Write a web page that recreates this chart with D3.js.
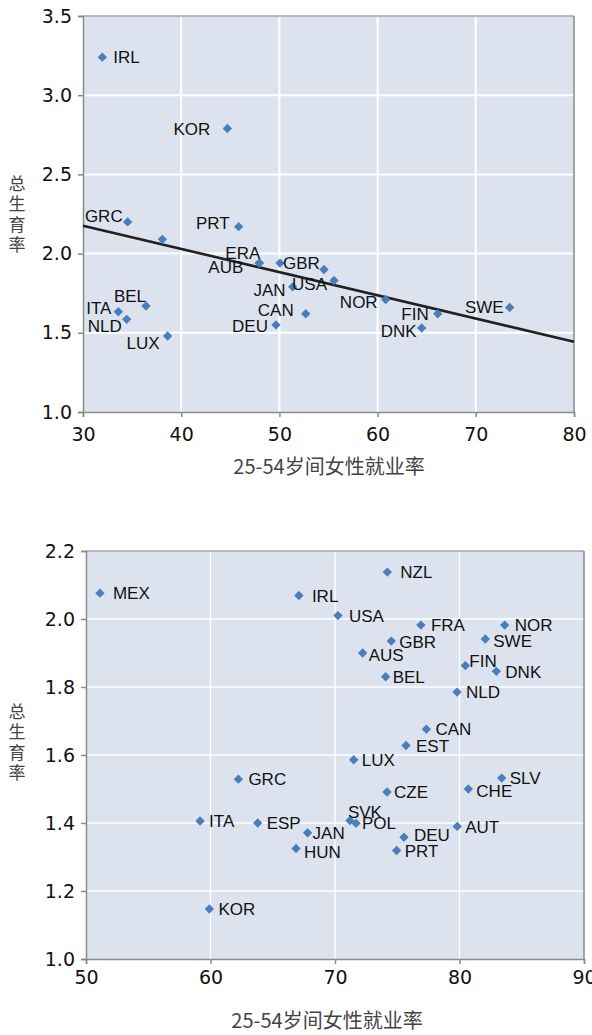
<!DOCTYPE html>
<html><head><meta charset="utf-8">
<script src="https://cdn.jsdelivr.net/npm/d3@7"></script>
<style>
body{margin:0;background:#fff;}
svg{display:block;}
</style></head>
<body>
<svg id="chart" width="592" height="1035"></svg>
<script>
// ---------- Data: top chart ----------
const topNames = ["IRL","KOR","GRC","","PRT","ERA","AUB","GBR","","USA","JAN","CAN","DEU","NOR","FIN","DNK","SWE","ITA","NLD","BEL","LUX"];
const topEmployment = [31.97,44.7,34.55,38.08,45.85,47.95,47.95,50.06,54.54,55.56,51.35,52.68,49.65,60.82,66.12,64.49,73.45,33.6,34.45,36.42,38.62];
const topFertility = [3.24,2.79,2.20,2.09,2.17,1.94,1.94,1.94,1.90,1.83,1.79,1.62,1.55,1.71,1.62,1.53,1.66,1.633,1.585,1.669,1.48];
// label placement: [anchor, dx, dy]
const topLabelPlace = [["start",11,0],["end",-17,0],["end",-5,-6],["start",0,0],["end",-9,-4],["end",1,-10],["end",-16,4],["start",3,0],["start",0,0],["end",-7,3],["end",-7,3],["end",-12,-4],["end",-8,1],["end",-8,2],["end",-9,0],["end",-5,3],["end",-6,-1],["end",-7,-4],["end",-5,7],["end",0,-10],["end",-8,7]];
const topTrendX = [30, 80];
const topTrendY = [2.176, 1.444];
const topXTicks = [30,40,50,60,70,80];
const topYTicks = [1.0,1.5,2.0,2.5,3.0,3.5];

// ---------- Data: bottom chart ----------
const botNames = ["MEX","NZL","IRL","USA","FRA","NOR","GBR","SWE","AUS","FIN","DNK","BEL","NLD","CAN","EST","LUX","CZE","SVK","POL","JAN","HUN","DEU","PRT","AUT","SLV","CHE","GRC","ITA","ESP","KOR"];
const botEmployment = [51.12,74.2,67.1,70.24,76.9,83.63,74.52,82.07,72.22,80.47,82.96,74.07,79.8,77.34,75.7,71.5,74.18,71.2,71.69,67.8,66.87,75.54,74.95,79.82,83.39,80.71,62.24,59.16,63.79,59.91];
const botFertility = [2.076,2.138,2.069,2.01,1.982,1.982,1.935,1.941,1.9,1.863,1.846,1.83,1.785,1.676,1.628,1.586,1.491,1.407,1.399,1.371,1.325,1.358,1.319,1.39,1.532,1.5,1.529,1.406,1.4,1.147];
const botLabelPlace = [["start",13,0],["start",13,0],["start",13,0],["start",11,0],["start",10,0],["start",10,0],["start",8,1],["start",8,2],["start",6,2],["start",4,-5],["start",9,1],["start",7,0],["start",9,0],["start",9,0],["start",10,0],["start",8,0],["start",7,0],["start",-2,-9],["start",6,0],["start",5,0],["start",8,3],["start",10,-2],["start",8,0],["start",8,0],["start",8,0],["start",8,2],["start",10,0],["start",9,0],["start",9,0],["start",9,0]];
const botXTicks = [50,60,70,80,90];
const botYTicks = [1.0,1.2,1.4,1.6,1.8,2.0,2.2];

const xTitle = "25-54岁间女性就业率";
const yTitle = "总生育率";

const svg = d3.select("#chart");
const plotBg = "#dce3ef";
const markColor = "#4a7ebb";
const tickFont = "'DejaVu Sans', sans-serif";
const labelFont = "'Liberation Sans', Arial, sans-serif";
const cjkFont = "'Noto Sans CJK SC', sans-serif";

function drawChart(cfg){
  const g = svg.append("g");
  const x = d3.scaleLinear().domain(cfg.xDomain).range([cfg.left, cfg.right]);
  const y = d3.scaleLinear().domain(cfg.yDomain).range([cfg.bottom, cfg.top]);
  g.append("rect").attr("x", cfg.left).attr("y", cfg.top)
    .attr("width", cfg.right - cfg.left).attr("height", cfg.bottom - cfg.top)
    .attr("fill", plotBg);
  g.selectAll(".gx").data(cfg.xTicks.slice(1, -1)).join("line")
    .attr("x1", d => x(d)).attr("x2", d => x(d))
    .attr("y1", cfg.top).attr("y2", cfg.bottom)
    .attr("stroke", "#fff").attr("stroke-width", cfg.gridW);
  g.selectAll(".gy").data(cfg.yTicks.slice(1, -1)).join("line")
    .attr("x1", cfg.left).attr("x2", cfg.right)
    .attr("y1", d => y(d)).attr("y2", d => y(d))
    .attr("stroke", "#fff").attr("stroke-width", cfg.gridW);
  g.append("line").attr("x1", cfg.left).attr("x2", cfg.right).attr("y1", cfg.top).attr("y2", cfg.top)
    .attr("stroke", "#a6a6a6").attr("stroke-width", 1.5);
  g.append("line").attr("x1", cfg.right).attr("x2", cfg.right).attr("y1", cfg.top).attr("y2", cfg.bottom)
    .attr("stroke", "#8a8a8a").attr("stroke-width", 1.5);
  const ax = g.append("g").attr("transform", `translate(0,${cfg.bottom})`)
    .call(d3.axisBottom(x).tickValues(cfg.xTicks).tickFormat(d3.format("d")).tickSize(5).tickPadding(cfg.xPad));
  const ay = g.append("g").attr("transform", `translate(${cfg.left},0)`)
    .call(d3.axisLeft(y).tickValues(cfg.yTicks).tickFormat(d3.format(".1f")).tickSize(5).tickPadding(6));
  [ax, ay].forEach(a => {
    a.select(".domain").attr("stroke", "#8a8a8a").attr("stroke-width", 1.5);
    a.selectAll(".tick line").attr("stroke", "#8a8a8a").attr("stroke-width", 1.5);
    a.selectAll(".tick text").attr("font-family", tickFont).attr("font-size", 19).attr("fill", "#111");
  });
  if (cfg.trendX) {
    g.append("path")
      .datum(cfg.trendX.map((d, i) => [d, cfg.trendY[i]]))
      .attr("d", d3.line().x(d => x(d[0])).y(d => y(d[1])))
      .attr("stroke", "#231f20").attr("stroke-width", 2.6).attr("fill", "none");
  }
  const pts = cfg.names.map((n, i) => ({n, vx: cfg.xs[i], vy: cfg.ys[i], p: cfg.place[i]}));
  const sym = d3.symbol().type(d3.symbolSquare).size(44);
  g.selectAll(".pt").data(pts).join("path")
    .attr("d", sym)
    .attr("transform", d => `translate(${x(d.vx)},${y(d.vy)}) rotate(45)`)
    .attr("fill", markColor);
  g.selectAll(".lb").data(pts.filter(d => d.n)).join("text")
    .attr("x", d => x(d.vx) + d.p[1])
    .attr("y", d => y(d.vy) + d.p[2])
    .attr("dy", "0.36em")
    .attr("text-anchor", d => d.p[0])
    .attr("font-family", labelFont).attr("font-size", 17).attr("fill", "#111")
    .text(d => d.n);
  g.append("text").attr("x", cfg.xTitleX).attr("y", cfg.xTitleY)
    .attr("text-anchor", "middle").attr("dy", "0.36em")
    .attr("font-family", cjkFont).attr("font-size", 20).attr("fill", "#444")
    .text(xTitle);
  g.append("text")
    .attr("x", 17).attr("y", cfg.yTitleY)
    .attr("text-anchor", "middle")
    .style("writing-mode", "vertical-rl")
    .style("letter-spacing", "3.5px")
    .attr("font-family", cjkFont).attr("font-size", 17).attr("fill", "#444")
    .text(yTitle);
}

drawChart({
  xDomain: [30, 80], yDomain: [1, 3.5],
  left: 83, right: 574, top: 16, bottom: 412,
  xTicks: topXTicks, yTicks: topYTicks, gridW: 2, xPad: 11,
  names: topNames, xs: topEmployment, ys: topFertility, place: topLabelPlace,
  trendX: topTrendX, trendY: topTrendY,
  xTitleX: 329, xTitleY: 467, yTitleY: 216
});
drawChart({
  xDomain: [50, 90], yDomain: [1, 2.2],
  left: 86, right: 584, top: 551, bottom: 959,
  xTicks: botXTicks, yTicks: botYTicks, gridW: 1.3, xPad: 7,
  names: botNames, xs: botEmployment, ys: botFertility, place: botLabelPlace,
  xTitleX: 327, xTitleY: 1021, yTitleY: 744
});
</script>
</body></html>
